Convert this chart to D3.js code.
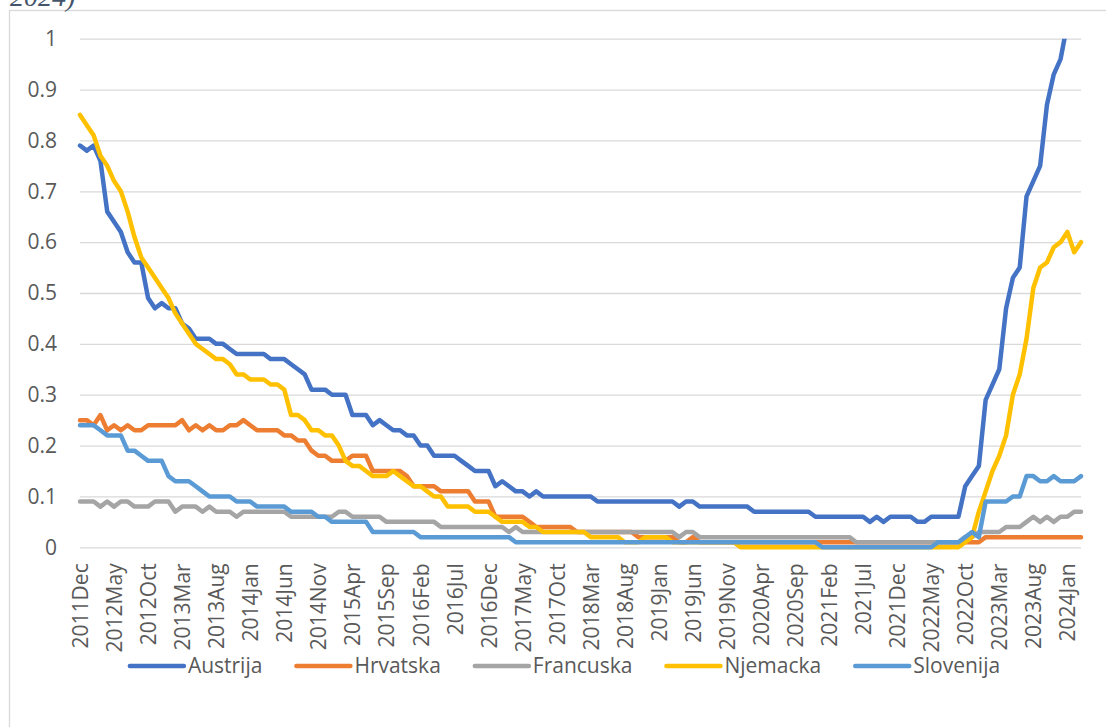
<!DOCTYPE html>
<html>
<head>
<meta charset="utf-8">
<script src="https://cdn.jsdelivr.net/npm/d3@7"></script>
<style>
  html, body { margin: 0; padding: 0; background: #fff; }
  svg { display: block; }
  text { font-family: "Open Sans", "Noto Sans", sans-serif; }
</style>
</head>
<body>
<svg id="chart" width="1106" height="727"></svg>
<script>
// ---------- DATA ----------
const startMonth = new Date(2011, 11, 1);   // 2011Dec
const endMonth = new Date(2024, 3, 1);      // exclusive -> last = 2024Mar
const categories = d3.timeMonth.range(startMonth, endMonth).map(d3.timeFormat("%Y%b"));
const labelStep = 5;
const yTicks = [0, 0.1, 0.2, 0.3, 0.4, 0.5, 0.6, 0.7, 0.8, 0.9, 1];
const seriesNames = ["Austrija", "Hrvatska", "Francuska", "Njemacka", "Slovenija"];
const seriesColors = ["#4472C4", "#ED7D31", "#A5A5A5", "#FFC000", "#5B9BD5"];

const austrija = [
  0.79,0.78,0.79,0.76,0.66,0.64,0.62,0.58,0.56,0.56,
  0.49,0.47,0.48,0.47,0.47,0.44,0.43,0.41,0.41,0.41,
  0.40,0.40,0.39,0.38,0.38,0.38,0.38,0.38,0.37,0.37,
  0.37,0.36,0.35,0.34,0.31,0.31,0.31,0.30,0.30,0.30,
  0.26,0.26,0.26,0.24,0.25,0.24,0.23,0.23,0.22,0.22,
  0.20,0.20,0.18,0.18,0.18,0.18,0.17,0.16,0.15,0.15,
  0.15,0.12,0.13,0.12,0.11,0.11,0.10,0.11,0.10,0.10,
  0.10,0.10,0.10,0.10,0.10,0.10,0.09,0.09,0.09,0.09,
  0.09,0.09,0.09,0.09,0.09,0.09,0.09,0.09,0.08,0.09,
  0.09,0.08,0.08,0.08,0.08,0.08,0.08,0.08,0.08,0.07,
  0.07,0.07,0.07,0.07,0.07,0.07,0.07,0.07,0.06,0.06,
  0.06,0.06,0.06,0.06,0.06,0.06,0.05,0.06,0.05,0.06,
  0.06,0.06,0.06,0.05,0.05,0.06,0.06,0.06,0.06,0.06,
  0.12,0.14,0.16,0.29,0.32,0.35,0.47,0.53,0.55,0.69,
  0.72,0.75,0.87,0.93,0.96,1.03,1.08,1.12
];
const hrvatska = [
  0.25,0.25,0.24,0.26,0.23,0.24,0.23,0.24,0.23,0.23,
  0.24,0.24,0.24,0.24,0.24,0.25,0.23,0.24,0.23,0.24,
  0.23,0.23,0.24,0.24,0.25,0.24,0.23,0.23,0.23,0.23,
  0.22,0.22,0.21,0.21,0.19,0.18,0.18,0.17,0.17,0.17,
  0.18,0.18,0.18,0.15,0.15,0.15,0.15,0.15,0.14,0.12,
  0.12,0.12,0.12,0.11,0.11,0.11,0.11,0.11,0.09,0.09,
  0.09,0.06,0.06,0.06,0.06,0.06,0.05,0.04,0.04,0.04,
  0.04,0.04,0.04,0.03,0.03,0.03,0.03,0.03,0.03,0.03,
  0.03,0.03,0.02,0.02,0.02,0.02,0.02,0.02,0.01,0.01,
  0.02,0.01,0.01,0.01,0.01,0.01,0.01,0.01,0.01,0.01,
  0.01,0.01,0.01,0.01,0.01,0.01,0.01,0.01,0.01,0.01,
  0.01,0.01,0.01,0.01,0.01,0.01,0.01,0.01,0.01,0.01,
  0.01,0.01,0.01,0.01,0.01,0.01,0.01,0.01,0.01,0.01,
  0.01,0.01,0.01,0.02,0.02,0.02,0.02,0.02,0.02,0.02,
  0.02,0.02,0.02,0.02,0.02,0.02,0.02,0.02
];
const francuska = [
  0.09,0.09,0.09,0.08,0.09,0.08,0.09,0.09,0.08,0.08,
  0.08,0.09,0.09,0.09,0.07,0.08,0.08,0.08,0.07,0.08,
  0.07,0.07,0.07,0.06,0.07,0.07,0.07,0.07,0.07,0.07,
  0.07,0.06,0.06,0.06,0.06,0.06,0.06,0.06,0.07,0.07,
  0.06,0.06,0.06,0.06,0.06,0.05,0.05,0.05,0.05,0.05,
  0.05,0.05,0.05,0.04,0.04,0.04,0.04,0.04,0.04,0.04,
  0.04,0.04,0.04,0.03,0.04,0.03,0.03,0.03,0.03,0.03,
  0.03,0.03,0.03,0.03,0.03,0.03,0.03,0.03,0.03,0.03,
  0.03,0.03,0.03,0.03,0.03,0.03,0.03,0.03,0.02,0.03,
  0.03,0.02,0.02,0.02,0.02,0.02,0.02,0.02,0.02,0.02,
  0.02,0.02,0.02,0.02,0.02,0.02,0.02,0.02,0.02,0.02,
  0.02,0.02,0.02,0.02,0.01,0.01,0.01,0.01,0.01,0.01,
  0.01,0.01,0.01,0.01,0.01,0.01,0.01,0.01,0.01,0.01,
  0.02,0.02,0.03,0.03,0.03,0.03,0.04,0.04,0.04,0.05,
  0.06,0.05,0.06,0.05,0.06,0.06,0.07,0.07
];
const njemacka = [
  0.85,0.83,0.81,0.77,0.75,0.72,0.70,0.66,0.61,0.57,
  0.55,0.53,0.51,0.49,0.46,0.44,0.42,0.40,0.39,0.38,
  0.37,0.37,0.36,0.34,0.34,0.33,0.33,0.33,0.32,0.32,
  0.31,0.26,0.26,0.25,0.23,0.23,0.22,0.22,0.20,0.17,
  0.16,0.16,0.15,0.14,0.14,0.14,0.15,0.14,0.13,0.12,
  0.12,0.11,0.10,0.10,0.08,0.08,0.08,0.08,0.07,0.07,
  0.07,0.06,0.05,0.05,0.05,0.05,0.04,0.04,0.03,0.03,
  0.03,0.03,0.03,0.03,0.03,0.02,0.02,0.02,0.02,0.02,
  0.01,0.01,0.01,0.02,0.02,0.02,0.02,0.01,0.01,0.01,
  0.01,0.01,0.01,0.01,0.01,0.01,0.01,0.00,0.00,0.00,
  0.00,0.00,0.00,0.00,0.00,0.00,0.00,0.00,0.00,0.00,
  0.00,0.00,0.00,0.00,0.00,0.00,0.00,0.00,0.00,0.00,
  0.00,0.00,0.00,0.00,0.00,0.00,0.00,0.00,0.00,0.00,
  0.01,0.02,0.07,0.11,0.15,0.18,0.22,0.30,0.34,0.41,
  0.51,0.55,0.56,0.59,0.60,0.62,0.58,0.60
];
const slovenija = [
  0.24,0.24,0.24,0.23,0.22,0.22,0.22,0.19,0.19,0.18,
  0.17,0.17,0.17,0.14,0.13,0.13,0.13,0.12,0.11,0.10,
  0.10,0.10,0.10,0.09,0.09,0.09,0.08,0.08,0.08,0.08,
  0.08,0.07,0.07,0.07,0.07,0.06,0.06,0.05,0.05,0.05,
  0.05,0.05,0.05,0.03,0.03,0.03,0.03,0.03,0.03,0.03,
  0.02,0.02,0.02,0.02,0.02,0.02,0.02,0.02,0.02,0.02,
  0.02,0.02,0.02,0.02,0.01,0.01,0.01,0.01,0.01,0.01,
  0.01,0.01,0.01,0.01,0.01,0.01,0.01,0.01,0.01,0.01,
  0.01,0.01,0.01,0.01,0.01,0.01,0.01,0.01,0.01,0.01,
  0.01,0.01,0.01,0.01,0.01,0.01,0.01,0.01,0.01,0.01,
  0.01,0.01,0.01,0.01,0.01,0.01,0.01,0.01,0.01,0.00,
  0.00,0.00,0.00,0.00,0.00,0.00,0.00,0.00,0.00,0.00,
  0.00,0.00,0.00,0.00,0.00,0.00,0.01,0.01,0.01,0.01,
  0.02,0.03,0.02,0.09,0.09,0.09,0.09,0.10,0.10,0.14,
  0.14,0.13,0.13,0.14,0.13,0.13,0.13,0.14
];
const seriesValues = [austrija, hrvatska, francuska, njemacka, slovenija];

// ---------- LAYOUT ----------
const plot = { left: 80, right: 1081, top: 38.7, bottom: 547.3 };
const svg = d3.select("#chart");
const labelFont = "21px";

// chart frame
svg.append("rect")
  .attr("x", 9.5).attr("y", 10.5).attr("width", 1200).attr("height", 800)
  .attr("fill", "#fff").attr("stroke", "#D9D9D9").attr("stroke-width", 1.3);

// title fragment (cut off at the top, as in the source)
svg.append("text")
  .attr("x", 10).attr("y", 6)
  .style("font-family", "'Liberation Serif', serif")
  .style("font-style", "italic")
  .style("font-size", "28px")
  .attr("fill", "#44546A")
  .text("2024)");

const x = d3.scalePoint().domain(categories).range([plot.left, plot.right]);
const y = d3.scaleLinear().domain([0, 1]).range([plot.bottom, plot.top]);

// y axis with gridlines
const yAxis = svg.append("g")
  .attr("transform", `translate(${plot.left},0)`)
  .call(d3.axisLeft(y).tickValues(yTicks)
    .tickFormat(d => d3.format("~g")(d))
    .tickSize(-(plot.right - plot.left)).tickPadding(23));
yAxis.select(".domain").remove();
yAxis.selectAll(".tick line").attr("stroke", "#D9D9D9").attr("stroke-width", 1.3);
yAxis.selectAll(".tick text")
  .attr("fill", "#595959").style("font-size", labelFont)
  .style("font-family", "'Open Sans', sans-serif");

// x axis labels
const xLabels = categories.filter((d, i) => i % labelStep === 0);
const xAxis = svg.append("g")
  .attr("transform", `translate(0,${plot.bottom})`)
  .call(d3.axisBottom(x).tickValues(xLabels).tickSize(0).tickPadding(0));
xAxis.select(".domain").remove();
xAxis.selectAll(".tick text")
  .attr("fill", "#595959").style("font-size", labelFont)
  .style("font-family", "'Open Sans', sans-serif")
  .attr("text-anchor", "end")
  .attr("transform", "rotate(-90)")
  .attr("x", -16).attr("y", 0).attr("dy", "0.36em");

// clip
svg.append("clipPath").attr("id", "plotclip")
  .append("rect")
  .attr("x", plot.left - 10).attr("y", plot.top)
  .attr("width", plot.right - plot.left + 20)
  .attr("height", plot.bottom - plot.top + 10);

const line = d3.line()
  .x((d, i) => x(categories[i]))
  .y(d => y(d));

const gLines = svg.append("g").attr("clip-path", "url(#plotclip)");
seriesValues.forEach((vals, k) => {
  gLines.append("path")
    .datum(vals)
    .attr("fill", "none")
    .attr("stroke", seriesColors[k])
    .attr("stroke-width", 4.5)
    .attr("stroke-linejoin", "round")
    .attr("stroke-linecap", "round")
    .attr("d", line);
});

// legend
const legendY = 666;
const sampleW = 54, sampleGap = 4, itemGap = 34;
const legend = svg.append("g");
const items = seriesNames.map((name, k) => {
  const g = legend.append("g");
  g.append("line")
    .attr("x1", 0).attr("x2", sampleW).attr("y1", 0).attr("y2", 0)
    .attr("stroke", seriesColors[k]).attr("stroke-width", 4.5)
    .attr("stroke-linecap", "round");
  const t = g.append("text")
    .attr("x", sampleW + sampleGap).attr("y", 0).attr("dy", "0.35em")
    .attr("fill", "#595959").style("font-size", labelFont)
    .style("font-family", "'Open Sans', sans-serif")
    .text(name);
  return { g, w: sampleW + sampleGap + t.node().getComputedTextLength() };
});
const totalW = d3.sum(items, d => d.w) + itemGap * (items.length - 1);
let cx = 565 - totalW / 2;
items.forEach(it => {
  it.g.attr("transform", `translate(${cx},${legendY})`);
  cx += it.w + itemGap;
});
</script>
</body>
</html>
